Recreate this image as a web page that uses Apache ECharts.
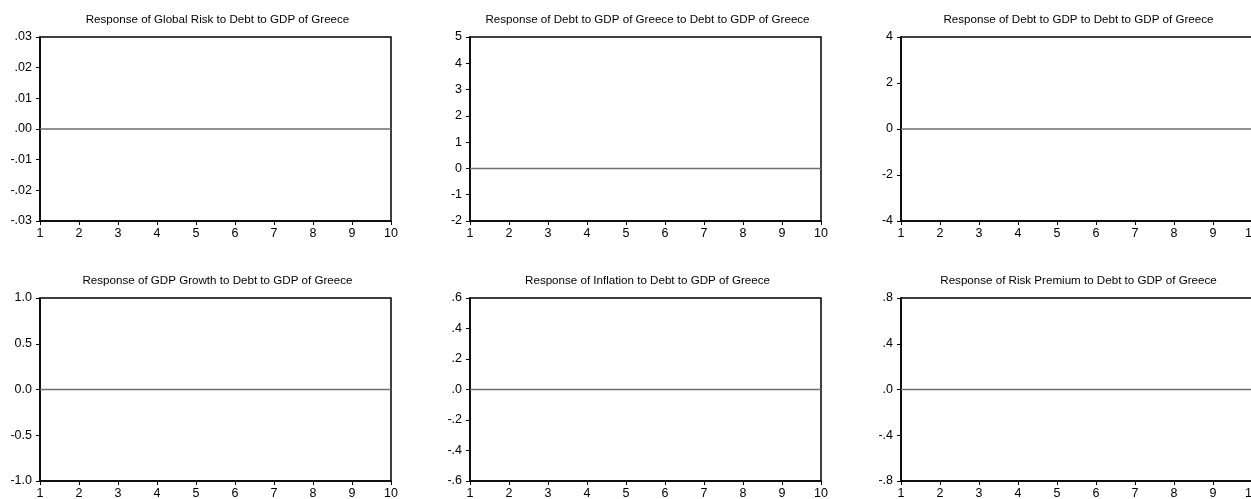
<!DOCTYPE html>
<html>
<head>
<meta charset="utf-8">
<style>
  html, body { margin: 0; padding: 0; background: #fff; }
  #chart { width: 1251px; height: 499px; }
</style>
<script src="https://cdn.jsdelivr.net/npm/echarts@6/dist/echarts.min.js"></script>
</head>
<body>
<div id="chart"></div>
<script>
// Impulse-response panels: responses to a Debt-to-GDP of Greece shock
const periods = [1, 2, 3, 4, 5, 6, 7, 8, 9, 10];

const panelTitles = [
  'Response of Global Risk to Debt to GDP of Greece',
  'Response of Debt to GDP of Greece to Debt to GDP of Greece',
  'Response of Debt to GDP to Debt to GDP of Greece',
  'Response of GDP Growth to Debt to GDP of Greece',
  'Response of Inflation to Debt to GDP of Greece',
  'Response of Risk Premium to Debt to GDP of Greece'
];

// Response values per period (all flat at zero)
const globalRisk   = [0, 0, 0, 0, 0, 0, 0, 0, 0, 0];
const debtGreece   = [0, 0, 0, 0, 0, 0, 0, 0, 0, 0];
const debtToGdp    = [0, 0, 0, 0, 0, 0, 0, 0, 0, 0];
const gdpGrowth    = [0, 0, 0, 0, 0, 0, 0, 0, 0, 0];
const inflation    = [0, 0, 0, 0, 0, 0, 0, 0, 0, 0];
const riskPremium  = [0, 0, 0, 0, 0, 0, 0, 0, 0, 0];

// Y tick values and their printed labels
const yTicks1 = [-0.03, -0.02, -0.01, 0, 0.01, 0.02, 0.03];
const yLabels1 = ['-.03', '-.02', '-.01', '.00', '.01', '.02', '.03'];
const yTicks2 = [-2, -1, 0, 1, 2, 3, 4, 5];
const yLabels2 = ['-2', '-1', '0', '1', '2', '3', '4', '5'];
const yTicks3 = [-4, -2, 0, 2, 4];
const yLabels3 = ['-4', '-2', '0', '2', '4'];
const yTicks4 = [-1, -0.5, 0, 0.5, 1];
const yLabels4 = ['-1.0', '-0.5', '0.0', '0.5', '1.0'];
const yTicks5 = [-0.6, -0.4, -0.2, 0, 0.2, 0.4, 0.6];
const yLabels5 = ['-.6', '-.4', '-.2', '.0', '.2', '.4', '.6'];
const yTicks6 = [-0.8, -0.4, 0, 0.4, 0.8];
const yLabels6 = ['-.8', '-.4', '.0', '.4', '.8'];

const seriesValues = [globalRisk, debtGreece, debtToGdp, gdpGrowth, inflation, riskPremium];
const yTickSets = [yTicks1, yTicks2, yTicks3, yTicks4, yTicks5, yTicks6];
const yLabelSets = [yLabels1, yLabels2, yLabels3, yLabels4, yLabels5, yLabels6];

const FONT = '"Liberation Sans", Arial, sans-serif';
const colLeft = [40, 470, 901];
const rowTop = [37, 298];
const plotW = 351;
const plotH = [184, 183];

const grids = [], xAxes = [], yAxes = [], series = [], titles = [];

for (let i = 0; i < 6; i++) {
  const c = i % 3, r = Math.floor(i / 3);
  const ticks = yTickSets[i], labels = yLabelSets[i];
  const step = ticks[1] - ticks[0];
  grids.push({
    left: colLeft[c], top: rowTop[r], width: plotW, height: plotH[r],
    show: true, borderColor: '#000', borderWidth: 1.5, backgroundColor: '#fff',
    outerBoundsMode: 'none', containLabel: false
  });
  titles.push({
    text: panelTitles[i],
    left: colLeft[c] + plotW / 2 - 3,
    top: rowTop[r] - 28,
    textAlign: 'center',
    textStyle: { fontFamily: FONT, fontSize: 11.6, fontWeight: 'normal', color: '#000' }
  });
  xAxes.push({
    type: 'value', gridIndex: i, min: 1, max: 10, interval: 1,
    axisLine: { show: true, onZero: false, lineStyle: { color: '#000', width: 1.5 } },
    axisTick: { show: true, length: 4, lineStyle: { color: '#000' } },
    axisLabel: { show: true, margin: 6, fontFamily: FONT, fontSize: 12.5, color: '#000',
                 showMinLabel: true, showMaxLabel: true, hideOverlap: false },
    splitLine: { show: false }
  });
  yAxes.push({
    type: 'value', gridIndex: i,
    min: ticks[0], max: ticks[ticks.length - 1], interval: step,
    axisLine: { show: true, lineStyle: { color: '#000', width: 1.5 } },
    axisTick: { show: true, length: 4, lineStyle: { color: '#000' } },
    axisLabel: {
      show: true, margin: 8, fontFamily: FONT, fontSize: 12.5, color: '#000',
      showMinLabel: true, showMaxLabel: true, hideOverlap: false,
      formatter: function (v) {
        let k = 0, best = Infinity;
        ticks.forEach(function (t, j) { const d = Math.abs(t - v); if (d < best) { best = d; k = j; } });
        return labels[k];
      }
    },
    splitLine: { show: false }
  });
  series.push({
    type: 'line', xAxisIndex: i, yAxisIndex: i,
    data: periods.map(function (p, j) { return [p, seriesValues[i][j]]; }),
    showSymbol: false, silent: true,
    lineStyle: { color: '#6e6e6e', width: 1.5 }
  });
}

const chart = echarts.init(document.getElementById('chart'), null, { renderer: 'canvas' });
chart.setOption({
  animation: false,
  backgroundColor: '#fff',
  title: titles,
  grid: grids,
  xAxis: xAxes,
  yAxis: yAxes,
  series: series
});
</script>
</body>
</html>
